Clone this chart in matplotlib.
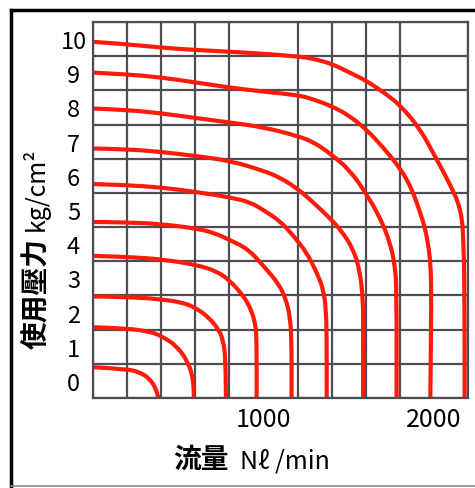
import matplotlib
matplotlib.use('Agg')
import matplotlib.pyplot as plt
from matplotlib.lines import Line2D
from matplotlib.path import Path
from matplotlib.patches import PathPatch

plt.rcParams['font.family'] = ['Noto Sans CJK JP', 'DejaVu Sans']

# flow (Nl/min) vs pressure, one curve per supply pressure
flow_10 = [0, 200, 400, 605, 805, 1005, 1205, 1290, 1405, 1505, 1605, 1720, 1805, 1920, 2005, 2088, 2160, 2175, 2180, 2180]
pres_10 = [9.92, 9.85, 9.75, 9.68, 9.63, 9.57, 9.49, 9.43, 9.27, 9.02, 8.78, 8.39, 8.05, 7.37, 6.58, 5.82, 5.03, 4.05, 2.10, -0.5]

flow_9 = [0, 198, 399, 604, 804, 1003, 1204, 1292, 1404, 1507, 1607, 1701, 1806, 1871, 1912, 1947, 1971, 1982, 1985, 1979]
pres_9 = [9.02, 8.97, 8.88, 8.73, 8.58, 8.46, 8.36, 8.24, 8.03, 7.75, 7.34, 6.84, 6.20, 5.61, 5.03, 4.50, 3.86, 3.27, 2.39, -0.5]

flow_8 = [0, 198, 399, 604, 804, 1003, 1204, 1292, 1390, 1507, 1605, 1683, 1742, 1771, 1781, 1781]
pres_8 = [7.97, 7.93, 7.83, 7.69, 7.56, 7.42, 7.16, 6.99, 6.66, 6.17, 5.46, 4.79, 4.06, 3.39, 2.69, -0.5]

flow_7 = [0, 198, 399, 604, 804, 999, 1097, 1204, 1292, 1378, 1455, 1527, 1566, 1584, 1585, 1585]
pres_7 = [6.80, 6.78, 6.70, 6.58, 6.44, 6.15, 5.95, 5.61, 5.22, 4.82, 4.41, 3.86, 3.21, 2.39, 1.52, -0.5]

flow_6 = [0, 198, 399, 604, 804, 921, 999, 1097, 1175, 1253, 1312, 1351, 1367, 1371, 1371]
pres_6 = [5.76, 5.73, 5.66, 5.53, 5.37, 5.23, 5.00, 4.68, 4.25, 3.76, 3.18, 2.69, 2.10, 1.22, -0.5]

flow_5 = [0, 198, 399, 604, 706, 804, 909, 1003, 1091, 1132, 1155, 1165, 1165]
pres_5 = [4.65, 4.64, 4.59, 4.46, 4.34, 4.12, 3.86, 3.35, 2.83, 2.39, 1.90, 1.22, -0.5]

flow_4 = [0, 198, 399, 604, 726, 804, 882, 927, 953, 960, 960]
pres_4 = [3.66, 3.63, 3.56, 3.40, 3.21, 2.93, 2.49, 2.10, 1.66, 1.22, -0.5]

flow_3 = [0, 198, 399, 530, 604, 674, 736, 765, 777, 780]
pres_3 = [2.47, 2.46, 2.39, 2.29, 2.13, 1.88, 1.52, 1.17, 0.64, -0.5]

flow_2 = [0, 198, 334, 399, 491, 559, 588, 592]
pres_2 = [1.57, 1.54, 1.44, 1.32, 1.03, 0.54, 0.06, -0.5]

flow_1 = [0, 198, 276, 334, 370, 383]
pres_1 = [0.40, 0.35, 0.25, 0.06, -0.24, -0.5]

curves = [(flow_10, pres_10), (flow_9, pres_9), (flow_8, pres_8), (flow_7, pres_7),
          (flow_6, pres_6), (flow_5, pres_5), (flow_4, pres_4), (flow_3, pres_3),
          (flow_2, pres_2), (flow_1, pres_1)]

y_ticks = list(range(11))
x_ticks = [1000, 2000]


def smooth_path(xs, ys):
    # quadratic bezier through the midpoints, so the traced corners get rounded
    pts = list(zip(xs, ys))
    verts = [pts[0]]
    codes = [Path.MOVETO]
    for i in range(1, len(pts) - 1):
        mid = ((pts[i][0] + pts[i + 1][0]) / 2, (pts[i][1] + pts[i + 1][1]) / 2)
        verts += [pts[i], mid]
        codes += [Path.CURVE3, Path.CURVE3]
    verts.append(pts[-1])
    codes.append(Path.LINETO)
    return Path(verts, codes)


W, H = 475, 489
fig = plt.figure(figsize=(W / 100, H / 100), dpi=100)
ax = fig.add_axes([93 / W, 90 / H, 375 / W, 376 / H])
ax.set_xlim(0, 2200)
ax.set_ylim(-0.5, 10.5)

gridc = '#4d4d55'
ax.set_xticks(range(0, 2201, 200), minor=True)
ax.set_yticks([y - 0.5 for y in range(12)], minor=True)
ax.grid(which='minor', color=gridc, lw=1.6)
ax.set_axisbelow(True)
for s in ax.spines.values():
    s.set_color(gridc)
    s.set_linewidth(1.6)

for f, p in curves:
    ax.add_patch(PathPatch(smooth_path(f, p), facecolor='none', edgecolor='#ff1a0a',
                           lw=3.0, joinstyle='round', capstyle='butt'))

ax.set_xticks(x_ticks)
ax.set_xticklabels([str(v) for v in x_ticks])
ax.set_yticks(y_ticks)
ax.set_yticklabels([str(v) for v in y_ticks])
ax.tick_params(which='both', length=0)
ax.tick_params(axis='x', labelsize=18, pad=6)
ax.tick_params(axis='y', labelsize=17, pad=14)
for t in ax.get_yticklabels():
    t.set_ha('center')

fig.text(201 / W, 1 - 460 / H, '流量', ha='center', va='center',
         fontsize=20, fontweight='bold')
fig.text(285 / W, 1 - 462 / H, 'Nℓ /min', ha='center', va='center', fontsize=18)
fig.text(37 / W, 1 - 294 / H, '使用壓力', ha='center', va='center',
         rotation=90, fontsize=20, fontweight='bold')
fig.text(36 / W, 1 - 189 / H, 'kg/cm²', ha='center', va='center',
         rotation=90, fontsize=18)

# frame around the picture (left and top dark, bottom light)
fig.add_artist(Line2D([11 / W, 11 / W], [2 / H, 1 - 11 / H], color='black', lw=2.5))
fig.add_artist(Line2D([11 / W, 1], [1 - 11 / H, 1 - 11 / H], color='black', lw=2.5))
fig.add_artist(Line2D([11 / W, 1], [2 / H, 2 / H], color='#8a8a8a', lw=1.2))

fig.savefig('out.png', dpi=100)
